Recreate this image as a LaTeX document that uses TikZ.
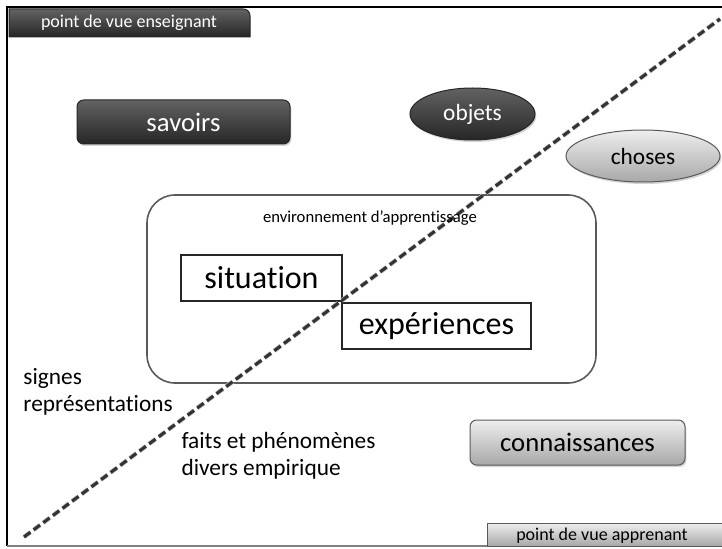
\documentclass[tikz,border=0pt]{standalone}
\usepackage{fontspec}
\setmainfont{Carlito}[Ligatures=NoCommon]
\usetikzlibrary{shapes.geometric,shadows}

\definecolor{darktop}{RGB}{98,98,98}
\definecolor{darkbot}{RGB}{38,38,38}
\definecolor{lighttop}{RGB}{238,238,238}
\definecolor{lightbot}{RGB}{168,168,168}
\definecolor{rimgray}{RGB}{90,90,90}

\tikzset{every picture/.style={line width=0.75pt}}
\tikzset{
	darkbox/.style={draw=darkbot, top color=darktop, bottom color=darkbot, text=white,
		drop shadow={opacity=0.35, shadow xshift=1pt, shadow yshift=-1.5pt}},
	lightbox/.style={draw=rimgray, top color=lighttop, bottom color=lightbot, text=black,
		drop shadow={opacity=0.35, shadow xshift=1pt, shadow yshift=-1.5pt}},
	framebox/.style={draw=black!85, rectangle, inner sep=0pt},
	bigtext/.style={font=\fontsize{24}{28}\selectfont},
	midtext/.style={font=\fontsize{20}{24}\selectfont},
	smalltext/.style={font=\fontsize{17.5}{20.5}\selectfont},
	tinytext/.style={font=\fontsize{13.5}{16}\selectfont}}

\begin{document}
\begin{tikzpicture}[x=0.75pt,y=0.75pt,yscale=-1,xscale=1]
	\useasboundingbox (0,0) rectangle (722,549);

	%Frame lines
	\coordinate (fTL) at (7,7);
	\coordinate (fTR) at (722,7);
	\coordinate (fBL) at (7,546);
	\coordinate (fBR) at (722,546);
	\draw [line width=2pt] (fTR) -- (fTL) -- (fBL) ;
	\draw [draw=gray, line width=1pt] (fBL) -- (fBR) ;

	%Shape: tab enseignant
	\shade [top color=darktop, bottom color=darkbot, draw=darkbot] (9,37) -- (9,9) [rounded corners=5pt] -- (250,9) [sharp corners] -- (250,37) -- cycle ;
	%Shape: tab apprenant
	\shade [top color=lighttop, bottom color=lightbot, draw=rimgray] (722,523) -- (487,523) -- (487,546) -- (722,546) -- cycle ;

	%Shape: Rounded Rect environnement
	\node [draw=rimgray, line width=1.2pt, rounded corners=21pt, minimum width=336.75pt, minimum height=141pt] (env) at (371.5,289) {};

	%Shape: Rectangle situation
	\node [framebox, line width=1.2pt, minimum width=120.75pt, minimum height=34.5pt, bigtext] (situation) at (261.5,278) {situation};
	%Shape: Rectangle experiences
	\node [framebox, line width=1.2pt, minimum width=141.75pt, minimum height=34.5pt, bigtext] (experiences) at (436.5,326) {expériences};

	%Shape: Rounded Rect savoirs
	\node [darkbox, rounded corners=5pt, minimum width=159.75pt, minimum height=33pt, midtext] (savoirs) at (183.5,122) {savoirs};
	%Shape: Ellipse objets
	\node [darkbox, ellipse, inner sep=0pt, minimum width=93.75pt, minimum height=39pt, smalltext] (objets) at (472.5,114) {objets};
	%Shape: Ellipse choses
	\node [lightbox, ellipse, inner sep=0pt, minimum width=115.5pt, minimum height=39pt, smalltext] (choses) at (643,156) {choses};
	%Shape: Rounded Rect connaissances
	\node [lightbox, rounded corners=5pt, minimum width=161.25pt, minimum height=33.75pt, midtext] (connaissances) at (577.5,442.5) {connaissances};

	%Dashed Line
	\coordinate (dStart) at (24,537);
	\coordinate (dEnd) at (720,19);
	\draw [black!25, line width=3.4pt, dash pattern={on 6pt off 3pt}, shift={(0.8,0.8)}] (dStart) -- (dEnd) ;
	\draw [black!80, line width=2.3pt, dash pattern={on 6pt off 3pt}] (dStart) -- (dEnd) ;

	% Text Node
	\node [tinytext, text=white] (enseignant) at (129,23) {point de vue enseignant};
	% Text Node
	\node [tinytext] (apprenant) at (602,536) {point de vue apprenant};
	% Text Node
	\node [font=\fontsize{12.5}{15}\selectfont] (envlabel) at (370,218) {environnement d'apprentissage};
	% Text Node
	\node [smalltext, align=left, anchor=west, inner sep=0pt] (signes) at (23,392) {signes\\représentations};
	% Text Node
	\node [smalltext, align=left, anchor=west, inner sep=0pt] (faits) at (181,456) {faits et phénomènes\\divers empirique};

\end{tikzpicture}
\end{document}
